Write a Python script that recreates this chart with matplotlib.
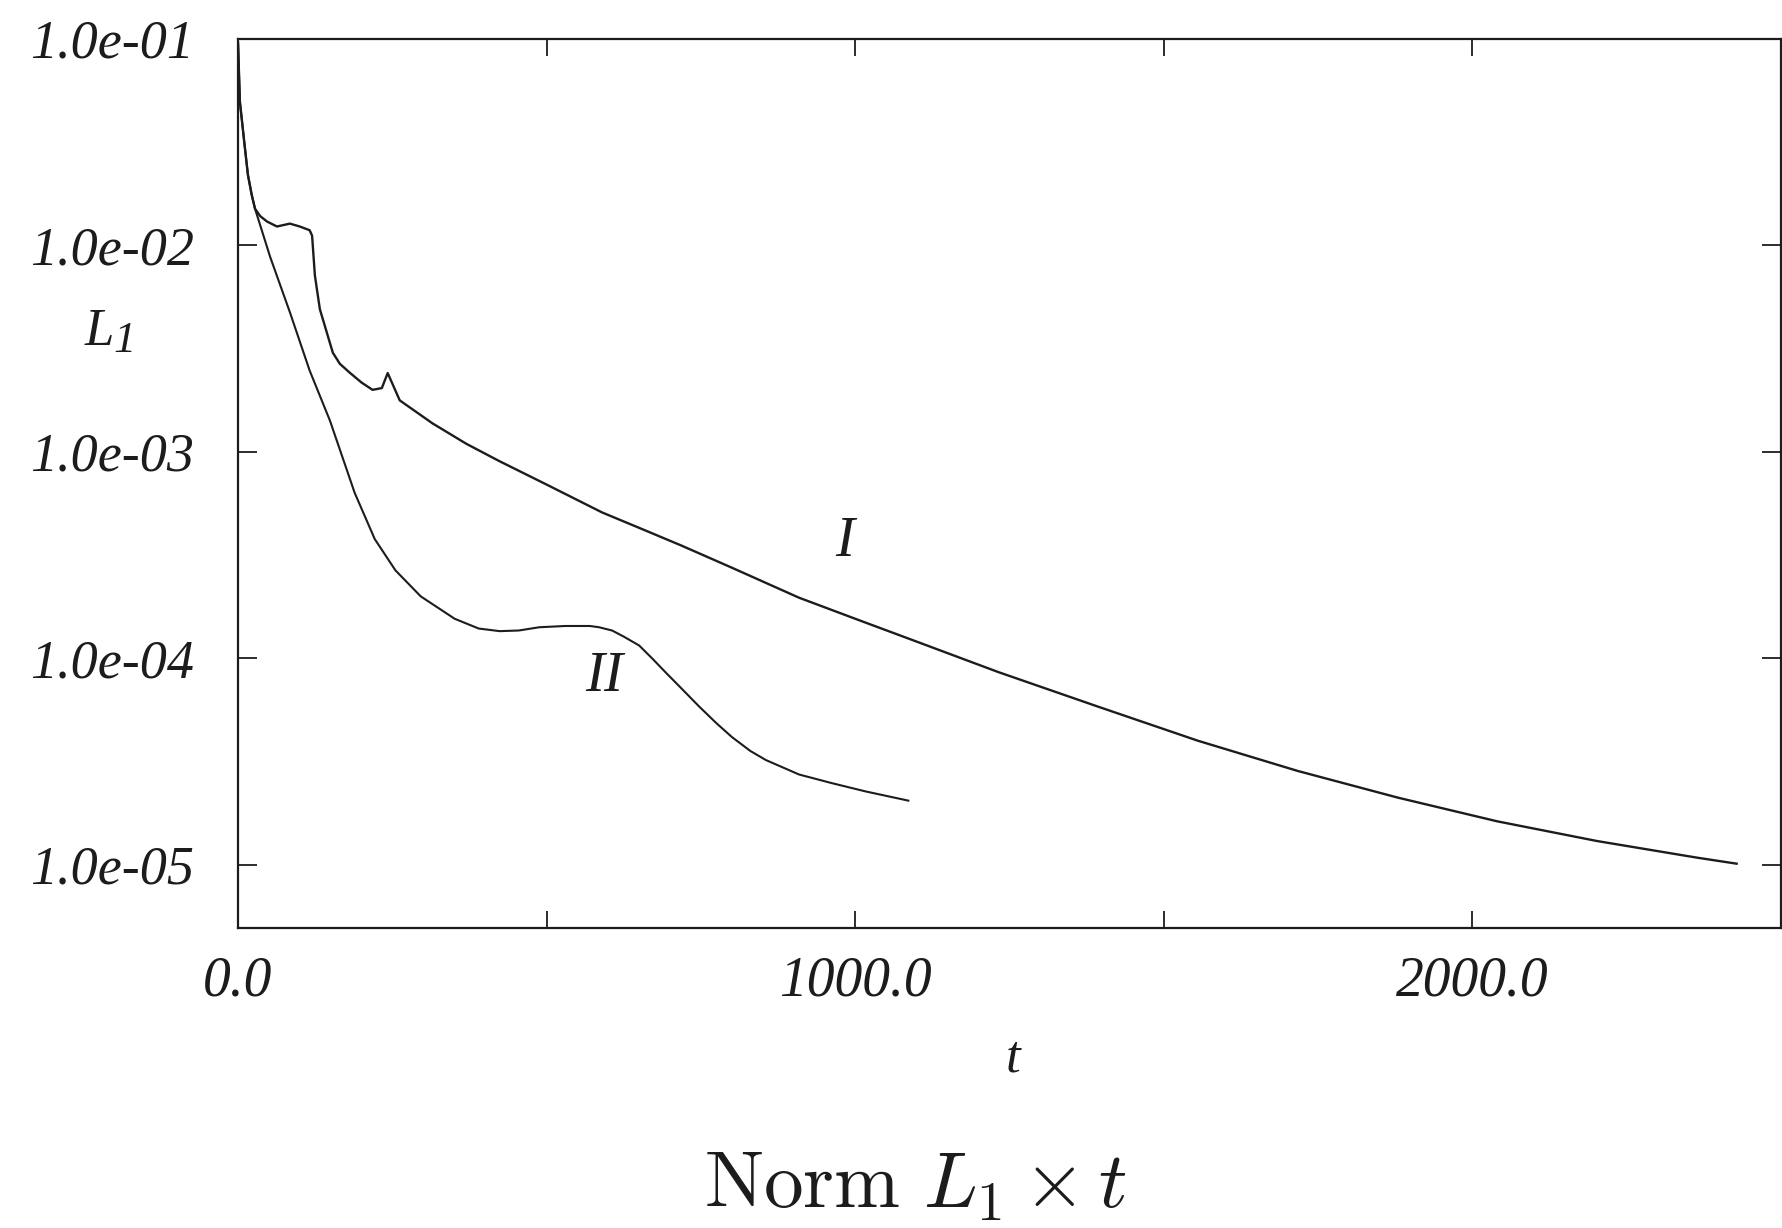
import numpy as np
import matplotlib.pyplot as plt
from matplotlib.ticker import FixedLocator, FuncFormatter, NullLocator

# ── data ─────────────────────────────────────────────────────────────────────

# curve I
t_1 = [0, 3, 10, 16, 22, 27.5, 36, 47, 63, 84, 100, 116, 120, 124.5, 132.6,
       153.6, 165, 181, 200, 218, 233, 242.5, 262, 315, 370, 424, 500, 590,
       650, 718, 800, 909, 1000, 1100, 1232, 1394, 1555, 1717, 1879, 2040,
       2202, 2364, 2428]
l1_1 = [0.095, 0.0495, 0.0317, 0.0219, 0.0176, 0.0150, 0.0138, 0.0130,
        0.0123, 0.0127, 0.0123, 0.0118, 0.0111, 0.00713, 0.00489, 0.00301,
        0.00266, 0.00241, 0.00216, 0.00199, 0.00203, 0.00240, 0.00177,
        0.00137, 0.00109, 0.000897, 0.000692, 0.000507, 0.000427, 0.000351,
        0.000274, 0.000196, 0.000155, 0.000120, 8.55e-5, 5.81e-5, 3.98e-5,
        2.84e-5, 2.11e-5, 1.62e-5, 1.30e-5, 1.08e-5, 1.01e-5]

# curve II
t_2 = [0, 3, 10, 16, 22, 27.5, 52, 84, 116, 149, 189, 221.5, 255, 296, 351,
       390, 424, 455, 488, 530, 570, 585, 606, 625, 650, 672, 694, 720, 747,
       775, 800, 830, 855, 909, 962, 1017, 1086]
l1_2 = [0.095, 0.0495, 0.0317, 0.0219, 0.0176, 0.0150, 0.00877, 0.00473,
        0.00247, 0.00141, 0.000631, 0.000377, 0.000266, 0.000199, 0.000155,
        0.000139, 0.000135, 0.000136, 0.000141, 0.000143, 0.000143, 0.000141,
        0.000136, 0.000127, 0.000115, 9.89e-5, 8.45e-5, 7.05e-5, 5.83e-5,
        4.84e-5, 4.15e-5, 3.55e-5, 3.21e-5, 2.73e-5, 2.48e-5, 2.26e-5, 2.04e-5]

x_ticks = [0, 500, 1000, 1500, 2000, 2500]
y_ticks = [1e-1, 1e-2, 1e-3, 1e-4, 1e-5]

# ── plot ─────────────────────────────────────────────────────────────────────

serif_it = dict(family="Liberation Serif", style="italic")
ink = "#1c1c1c"

fig = plt.figure(figsize=(17.83, 12.28), dpi=100)
ax = fig.add_axes([0.1335, 0.2443, 0.8654, 0.7243])

ax.plot(t_1, l1_1, color=ink, lw=1.7, solid_joinstyle="round")
ax.plot(t_2, l1_2, color=ink, lw=1.5, solid_joinstyle="round")

ax.set_yscale("log")
ax.set_xlim(0, 2500)
ax.set_ylim(4.93e-6, 1e-1)

ax.xaxis.set_major_locator(FixedLocator(x_ticks))
ax.xaxis.set_major_formatter(FuncFormatter(
    lambda v, p: f"{v:.1f}" if v % 1000 == 0 and v < 2500 else ""))
ax.yaxis.set_major_locator(FixedLocator(y_ticks))
ax.yaxis.set_major_formatter(FuncFormatter(lambda v, p: f"{v:.1e}"))
ax.yaxis.set_minor_locator(NullLocator())

ax.tick_params(axis="both", direction="in", top=True, right=True,
               color=ink, width=1.3)
ax.tick_params(axis="x", length=12, pad=20, labelsize=40)
ax.tick_params(axis="y", length=14, pad=32, labelsize=39)
for lab in ax.get_xticklabels() + ax.get_yticklabels():
    lab.set_fontfamily("Liberation Serif")
    lab.set_fontstyle("italic")
    lab.set_color(ink)

for s in ax.spines.values():
    s.set_linewidth(1.6)
    s.set_color(ink)

# curve labels
ax.text(983, 3.65e-4, "I", fontsize=41, color=ink, ha="center", va="center",
        **serif_it)
ax.text(593, 8.07e-5, "II", fontsize=41, color=ink, ha="center", va="center",
        **serif_it)

# axis labels placed like the original figure
fig.text(99 / 1783, 1 - 345 / 1228, "L", fontsize=38, color=ink,
         ha="center", va="baseline", **serif_it)
fig.text(125 / 1783, 1 - 352 / 1228, "1", fontsize=32, color=ink,
         ha="center", va="baseline", **serif_it)
fig.text(1013 / 1783, 1 - 1058 / 1228, "t", fontsize=38, color=ink,
         ha="center", va="center", **serif_it)

fig.text(916 / 1783, 20 / 1228, r"$\mathrm{Norm}\ L_1 \times t$",
         fontsize=57, color=ink, ha="center", va="baseline",
         math_fontfamily="cm")

fig.savefig("out.png", dpi=100, facecolor="white")
